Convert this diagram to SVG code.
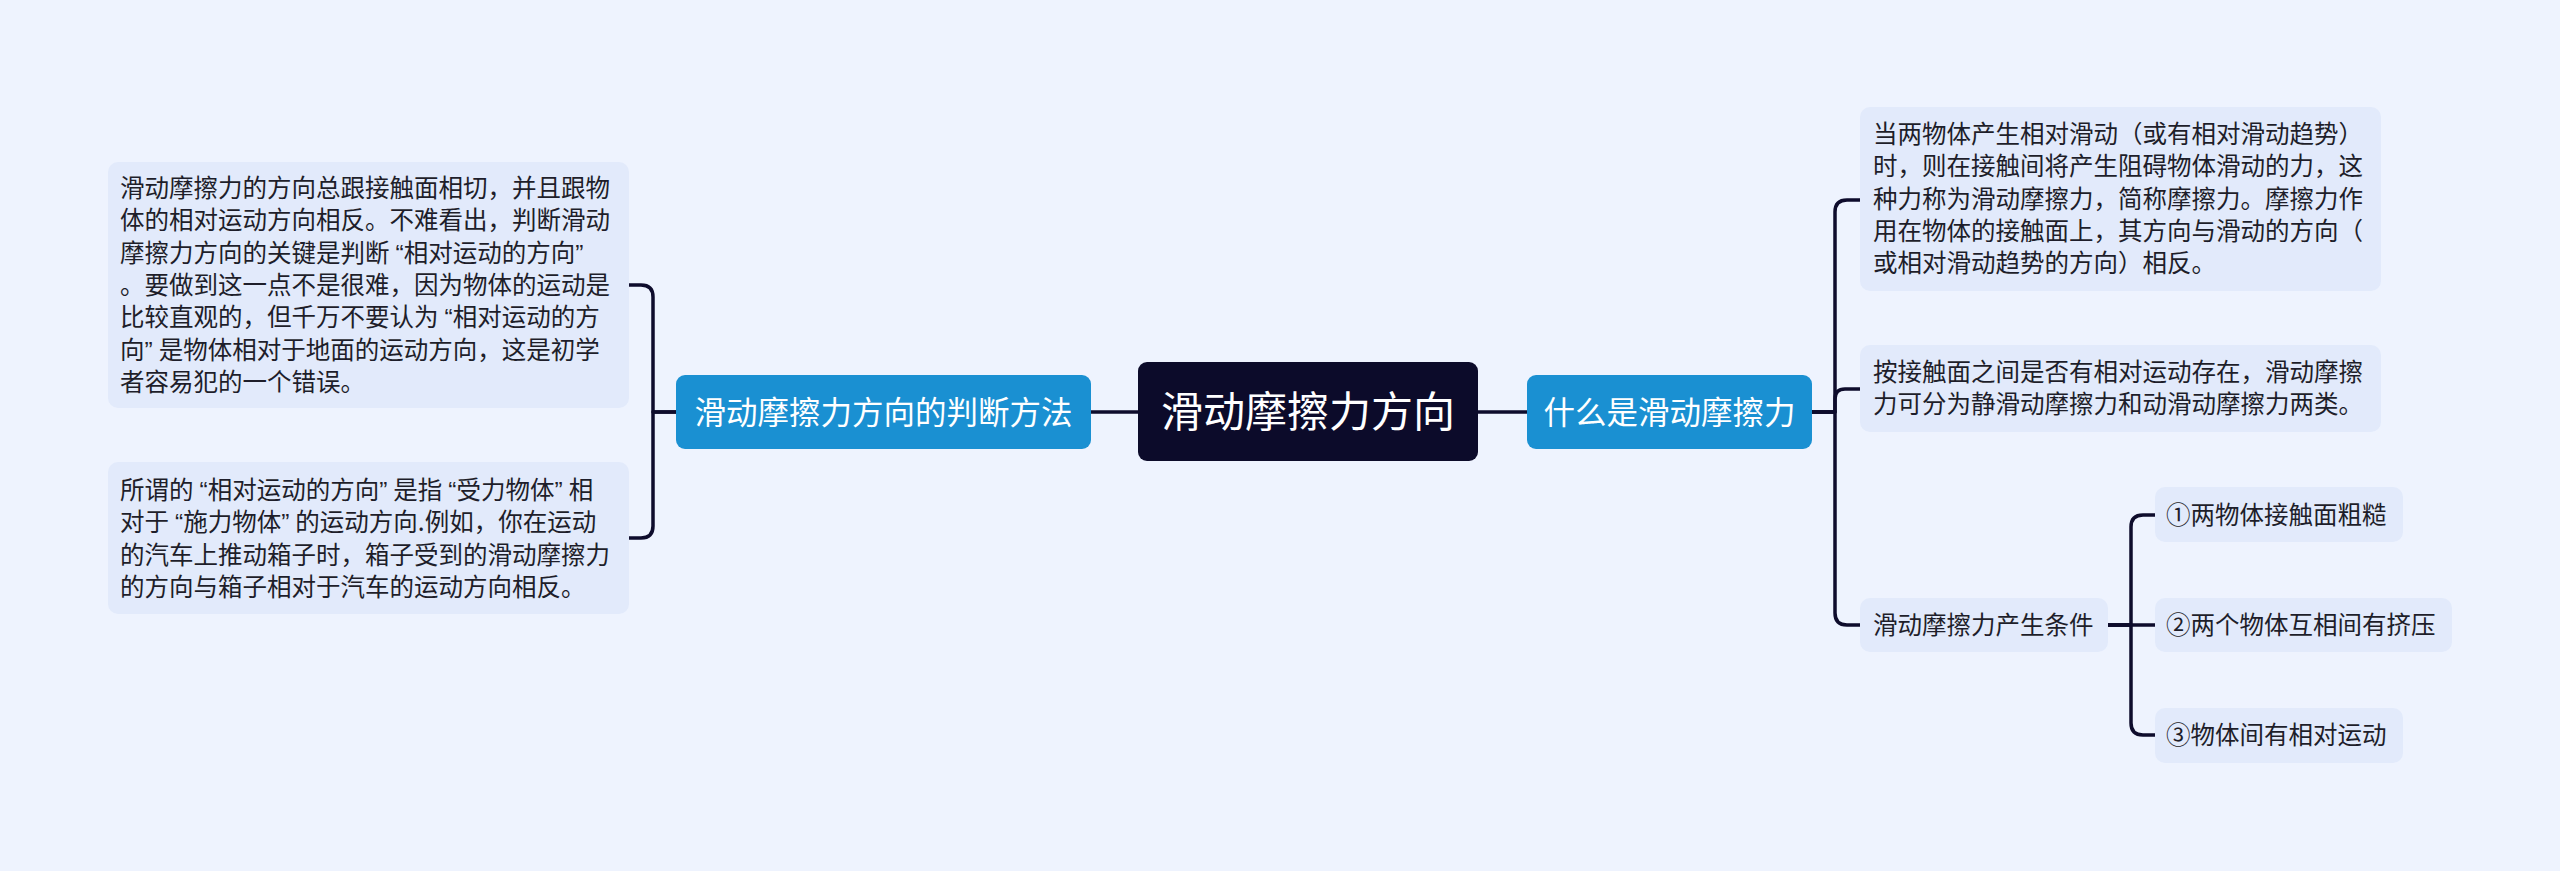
<svg xmlns="http://www.w3.org/2000/svg" width="2560" height="871" viewBox="0 0 2560 871">
<defs>
<style>
.bg{fill:#EEF3FE}
.leaf{fill:#E2EAFB}
.main{fill:#1A90D2}
.root{fill:#0C0B2A}
.t{font-family:"Noto Sans CJK SC","Noto Sans",sans-serif;font-size:24.5px;fill:#1E1E2A}
.q{font-family:"Liberation Sans",sans-serif}
.tm{font-family:"Noto Sans CJK SC","Noto Sans",sans-serif;font-size:31.5px;fill:#FFFFFF}
.tr{font-family:"Noto Sans CJK SC","Noto Sans",sans-serif;font-size:42px;fill:#FFFFFF}
.c{fill:none;stroke:#0E0C2C;stroke-width:3.5;stroke-linecap:round;stroke-linejoin:round}
</style>
</defs>
<rect class="bg" x="0" y="0" width="2560" height="871"/>
<g id="connectors">
<path class="c" d="M1138 412 H1091"/>
<path class="c" d="M1478 412 H1527"/>
<path class="c" d="M676 412 H653 V297 Q653 285 641 285 H629"/>
<path class="c" d="M676 412 H653 V526 Q653 538 641 538 H629"/>
<path class="c" d="M1812 412 H1835 V212 Q1835 200 1847 200 H1860"/>
<path class="c" d="M1812 412 H1835 V399 Q1835 389 1845 389 H1860"/>
<path class="c" d="M1812 412 H1835 V613 Q1835 625 1847 625 H1860"/>
<path class="c" d="M2108 625 H2131 V527 Q2131 515 2143 515 H2155"/>
<path class="c" d="M2108 625 H2155"/>
<path class="c" d="M2108 625 H2131 V723 Q2131 735 2143 735 H2155"/>
</g>
<g id="root">
<rect class="root" x="1138" y="362" width="340" height="99" rx="9"/>
<text class="tr" x="1308" y="427" text-anchor="middle">滑动摩擦力方向</text>
</g>
<g id="left-main">
<rect class="main" x="676" y="375" width="415" height="74" rx="9"/>
<text class="tm" x="883.5" y="424" text-anchor="middle">滑动摩擦力方向的判断方法</text>
</g>
<g id="right-main">
<rect class="main" x="1527" y="375" width="285" height="74" rx="9"/>
<text class="tm" x="1669.5" y="424" text-anchor="middle">什么是滑动摩擦力</text>
</g>
<g id="left-leaf-1">
<rect class="leaf" x="108" y="162" width="521" height="246" rx="10"/>
<text class="t" x="120" y="197">滑动摩擦力的方向总跟接触面相切，并且跟物</text>
<text class="t" x="120" y="229.3">体的相对运动方向相反。不难看出，判断滑动</text>
<text class="t" x="120" y="261.6">摩擦力方向的关键是判断<tspan class="q" dx="6">“</tspan>相对运动的方向<tspan class="q">”</tspan></text>
<text class="t" x="120" y="293.9">。要做到这一点不是很难，因为物体的运动是</text>
<text class="t" x="120" y="326.2">比较直观的，但千万不要认为<tspan class="q" dx="6">“</tspan>相对运动的方</text>
<text class="t" x="120" y="358.5">向<tspan class="q">”</tspan><tspan dx="6">是</tspan>物体相对于地面的运动方向，这是初学</text>
<text class="t" x="120" y="390.8">者容易犯的一个错误。</text>
</g>
<g id="left-leaf-2">
<rect class="leaf" x="108" y="462" width="521" height="152" rx="10"/>
<text class="t" x="120" y="499">所谓的<tspan class="q" dx="6">“</tspan>相对运动的方向<tspan class="q">”</tspan><tspan dx="6">是</tspan>指<tspan class="q" dx="6">“</tspan>受力物体<tspan class="q">”</tspan><tspan dx="6">相</tspan></text>
<text class="t" x="120" y="531.3">对于<tspan class="q" dx="6">“</tspan>施力物体<tspan class="q">”</tspan><tspan dx="6">的</tspan>运动方向.例如，你在运动</text>
<text class="t" x="120" y="563.6">的汽车上推动箱子时，箱子受到的滑动摩擦力</text>
<text class="t" x="120" y="595.9">的方向与箱子相对于汽车的运动方向相反。</text>
</g>
<g id="right-leaf-1">
<rect class="leaf" x="1860" y="107" width="521" height="184" rx="10"/>
<text class="t" x="1873" y="143">当两物体产生相对滑动（或有相对滑动趋势）</text>
<text class="t" x="1873" y="175.3">时，则在接触间将产生阻碍物体滑动的力，这</text>
<text class="t" x="1873" y="207.6">种力称为滑动摩擦力，简称摩擦力。摩擦力作</text>
<text class="t" x="1873" y="239.9">用在物体的接触面上，其方向与滑动的方向（</text>
<text class="t" x="1873" y="272.2">或相对滑动趋势的方向）相反。</text>
</g>
<g id="right-leaf-2">
<rect class="leaf" x="1860" y="345" width="521" height="87" rx="10"/>
<text class="t" x="1873" y="381">按接触面之间是否有相对运动存在，滑动摩擦</text>
<text class="t" x="1873" y="413.3">力可分为静滑动摩擦力和动滑动摩擦力两类。</text>
</g>
<g id="right-leaf-3">
<rect class="leaf" x="1860" y="598" width="248" height="54" rx="10"/>
<text class="t" x="1873" y="634">滑动摩擦力产生条件</text>
</g>
<g id="cond-1">
<rect class="leaf" x="2155" y="487" width="248" height="55" rx="10"/>
<text class="t" x="2166" y="524">①两物体接触面粗糙</text>
</g>
<g id="cond-2">
<rect class="leaf" x="2155" y="598" width="297" height="54" rx="10"/>
<text class="t" x="2166" y="634">②两个物体互相间有挤压</text>
</g>
<g id="cond-3">
<rect class="leaf" x="2155" y="708" width="248" height="55" rx="10"/>
<text class="t" x="2166" y="744">③物体间有相对运动</text>
</g>
</svg>
